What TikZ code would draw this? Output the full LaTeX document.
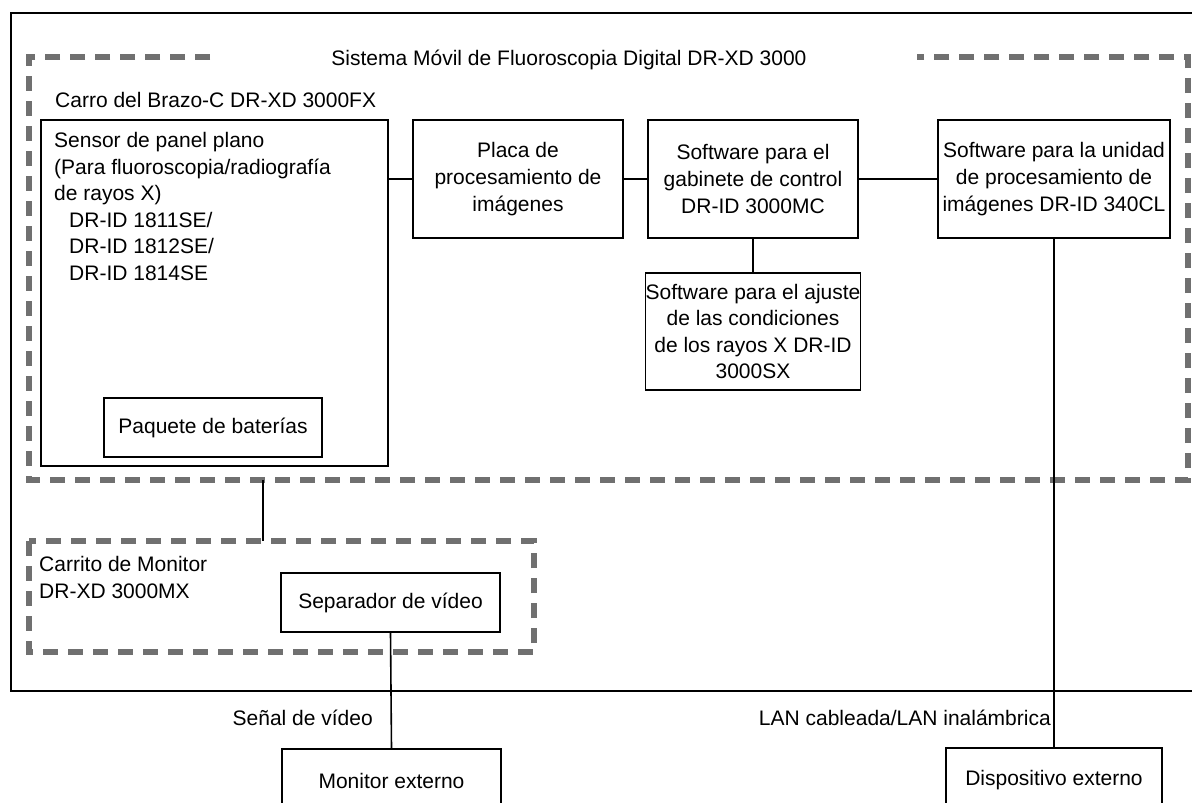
\documentclass[tikz,border=0pt]{standalone}
\usepackage{fontspec}
\setmainfont{Liberation Sans}
\definecolor{dashgray}{RGB}{112,112,112}
\tikzstyle{blk} = [draw, line width=1.6pt, inner sep=0pt, align=center]
\tikzstyle{grp} = [draw=dashgray, line width=6pt, dash pattern=on 15pt off 10pt]
\tikzstyle{wire} = [line width=1.6pt]
\tikzstyle{lbl} = [inner sep=0pt, align=left]

\begin{document}
\begin{tikzpicture}[x=1pt,y=-1pt,font=\fontsize{21}{26.6}\selectfont]
			\clip (0,0) rectangle (1192,803);
			\fill[white] (0,0) rectangle (1192,803);
			% outer frame and groups
			\draw[line width=2.5pt] (11,13) rectangle (1230,691);
			\draw[grp] (210,57) -- (29,57) -- (29,480) -- (1188,480) -- (1188,57) -- (917,57);
			\draw[grp] (29,541) rectangle (534,652);
			\node[lbl] (systitle) at (569,60) {Sistema Móvil de Fluoroscopia Digital DR-XD 3000};
			\node[lbl, anchor=west] (carro) at (55,100) {Carro del Brazo-C DR-XD 3000FX};
			\node[lbl, anchor=north west] (cart) at (39,556) {Carrito de Monitor\\DR-XD 3000MX};
			% boxes
			\node[blk, minimum width=347pt, minimum height=346pt] (sensor) at (214.5,293) {};
			\node[lbl, anchor=north west] (sensortxt) at (54,132) {Sensor de panel plano\\(Para fluoroscopia/radiografía\\de rayos X)\\\hspace*{15pt}DR-ID 1811SE/\\\hspace*{15pt}DR-ID 1812SE/\\\hspace*{15pt}DR-ID 1814SE};
			\node[blk, minimum width=218pt, minimum height=59pt] (batt) at (213,427.5) {Paquete de baterías};
			\node[blk, minimum width=210pt, minimum height=118pt] (placa) at (518,179) {Placa de\\procesamiento de\\imágenes};
			\node[blk, minimum width=210pt, minimum height=118pt] (mc) at (753,179) {Software para el\\gabinete de control\\DR-ID 3000MC};
			\node[blk, minimum width=210pt, minimum height=117pt] (sx) at (753,331.5) {Software para el ajuste\\de las condiciones\\de los rayos X DR-ID\\3000SX};
			\node[blk, minimum width=232pt, minimum height=118pt] (cl) at (1054,179) {Software para la unidad\\de procesamiento de\\imágenes DR-ID 340CL};
			\node[blk, minimum width=219pt, minimum height=59pt] (sep) at (390.5,602.5) {Separador de vídeo};
			\node[blk, minimum width=219pt, minimum height=63pt] (mon) at (391.5,780.5) {Monitor externo};
			\node[blk, minimum width=216pt, minimum height=64pt] (dev) at (1054,780) {Dispositivo externo};
			% connectors
			\coordinate (sysbot) at (263,480);
			\coordinate (carttop) at (263,541);
			\draw[wire] (placa.west) -- (placa.west -| sensor.east);
			\draw[wire] (placa.east) -- (mc.west);
			\draw[wire] (mc.east) -- (cl.west);
			\draw[wire] (mc.south) -- (sx.north);
			\draw[wire] (cl.south) -- (dev.north);
			\draw[wire] (sep.south) -- (mon.north);
			\draw[wire] (sysbot) -- (carttop);
			\node[lbl, anchor=east] (senal) at (373,718) {Señal de vídeo};
			\node[lbl, anchor=east] (lan) at (1051,718) {LAN cableada/LAN inalámbrica};
		\end{tikzpicture}
\end{document}
